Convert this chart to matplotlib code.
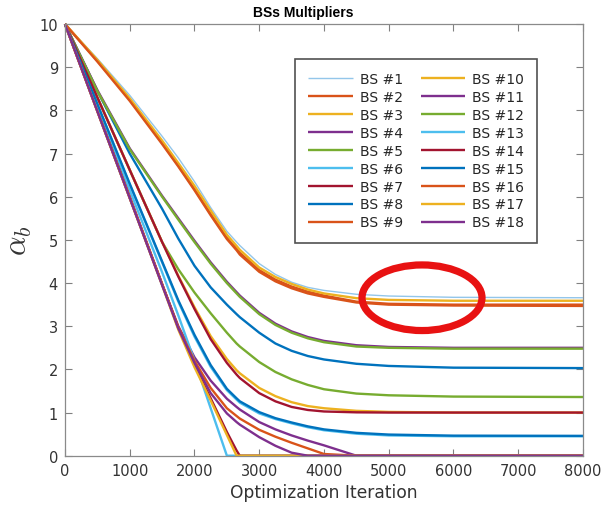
import matplotlib
matplotlib.use("Agg")
import matplotlib.pyplot as plt
from matplotlib.patches import Ellipse

plt.rcParams['font.family'] = ['DejaVu Sans']
plt.rcParams['mathtext.fontset'] = 'cm'

# ---------------- data ----------------
iters = [0, 500, 1000, 1500, 1750, 2000, 2250, 2500, 2650, 2700, 3000, 3250, 3500, 3750, 4000, 4500, 5000, 6000, 8000]

bs01 = [10, 9.20, 8.35, 7.40, 6.90, 6.35, 5.75, 5.20, 4.95, 4.87, 4.45, 4.20, 4.02, 3.90, 3.83, 3.74, 3.70, 3.67, 3.66]
bs02 = [10, 9.15, 8.25, 7.25, 6.72, 6.18, 5.60, 5.05, 4.80, 4.70, 4.30, 4.08, 3.92, 3.80, 3.71, 3.57, 3.52, 3.50, 3.50]
bs03 = [10, 9.17, 8.28, 7.30, 6.78, 6.25, 5.68, 5.12, 4.86, 4.77, 4.36, 4.14, 3.98, 3.85, 3.76, 3.65, 3.61, 3.59, 3.59]
bs04 = [10, 7.98, 5.97, 3.97, 3.00, 2.28, 1.74, 1.32, 1.13, 1.07, 0.78, 0.61, 0.47, 0.35, 0.24, 0.00, 0.00, 0.00, 0.00]
bs05 = [10, 8.30, 6.62, 4.95, 4.32, 3.78, 3.30, 2.85, 2.60, 2.53, 2.17, 1.94, 1.77, 1.64, 1.54, 1.44, 1.40, 1.37, 1.36]
bs06 = [10, 8.05, 6.15, 4.25, 3.25, 2.20, 1.10, 0.00, 0.00, 0.00, 0.00, 0.00, 0.00, 0.00, 0.00, 0.00, 0.00, 0.00, 0.00]
bs07 = [10, 8.00, 6.00, 3.98, 2.96, 2.10, 1.33, 0.55, 0.12, 0.00, 0.00, 0.00, 0.00, 0.00, 0.00, 0.00, 0.00, 0.00, 0.00]
bs08 = [10, 8.45, 7.00, 5.72, 5.03, 4.40, 3.90, 3.50, 3.28, 3.21, 2.85, 2.60, 2.43, 2.31, 2.23, 2.13, 2.08, 2.04, 2.03]
bs09 = [10, 7.98, 5.97, 3.97, 2.98, 2.20, 1.57, 1.10, 0.92, 0.86, 0.60, 0.44, 0.30, 0.17, 0.04, 0.00, 0.00, 0.00, 0.00]
bs10 = [10, 8.30, 6.62, 4.95, 4.17, 3.44, 2.77, 2.24, 1.98, 1.91, 1.57, 1.38, 1.24, 1.15, 1.10, 1.04, 1.015, 1.00, 1.00]
bs11 = [10, 8.47, 7.12, 6.02, 5.50, 4.98, 4.48, 4.03, 3.79, 3.71, 3.31, 3.06, 2.88, 2.75, 2.66, 2.56, 2.52, 2.50, 2.50]
bs12 = [10, 8.45, 7.10, 6.00, 5.47, 4.95, 4.45, 4.00, 3.76, 3.68, 3.28, 3.03, 2.85, 2.72, 2.63, 2.53, 2.50, 2.48, 2.48]
bs13 = [10, 8.13, 6.28, 4.48, 3.57, 2.76, 2.06, 1.52, 1.30, 1.23, 0.98, 0.85, 0.75, 0.66, 0.59, 0.51, 0.47, 0.45, 0.45]
bs14 = [10, 8.30, 6.62, 4.95, 4.15, 3.40, 2.70, 2.15, 1.88, 1.80, 1.45, 1.26, 1.13, 1.06, 1.025, 1.005, 1.00, 1.00, 1.00]
bs15 = [10, 8.15, 6.30, 4.50, 3.60, 2.80, 2.10, 1.55, 1.33, 1.26, 1.01, 0.87, 0.77, 0.68, 0.61, 0.53, 0.49, 0.465, 0.46]
bs16 = [10, 9.13, 8.22, 7.22, 6.70, 6.15, 5.57, 5.02, 4.76, 4.66, 4.26, 4.04, 3.88, 3.76, 3.68, 3.55, 3.50, 3.48, 3.47]
bs17 = [10, 7.98, 5.97, 3.95, 2.92, 2.05, 1.28, 0.48, 0.00, 0.00, 0.00, 0.00, 0.00, 0.00, 0.00, 0.00, 0.00, 0.00, 0.00]
bs18 = [10, 7.98, 5.97, 3.95, 2.95, 2.15, 1.45, 0.98, 0.78, 0.72, 0.43, 0.23, 0.07, 0.00, 0.00, 0.00, 0.00, 0.00, 0.00]

series = [bs01, bs02, bs03, bs04, bs05, bs06, bs07, bs08, bs09,
          bs10, bs11, bs12, bs13, bs14, bs15, bs16, bs17, bs18]
labels = ['BS #%d' % i for i in range(1, 19)]

x_ticks = [0, 1000, 2000, 3000, 4000, 5000, 6000, 7000, 8000]
y_ticks = [0, 1, 2, 3, 4, 5, 6, 7, 8, 9, 10]

# ---------------- style ----------------
matlab = ['#0072BD', '#D95319', '#EDB120', '#7E2F8E', '#77AC30', '#4DBEEE', '#A2142F']
colors = ['#93c6ea'] + [matlab[i % 7] for i in range(1, 18)]
widths = [1.0] + [1.7] * 17

fig = plt.figure(figsize=(6.03, 5.06), dpi=100)
ax = fig.add_axes([0.1078, 0.0974, 0.859, 0.853])

for vals, c, lw, lab in zip(series, colors, widths, labels):
    ax.plot(iters, vals, color=c, lw=lw, label=lab, clip_on=False,
            solid_capstyle='butt', solid_joinstyle='round')

ax.set_xlim(0, 8000)
ax.set_ylim(0, 10)
ax.set_xticks(x_ticks)
ax.set_yticks(y_ticks)
ax.tick_params(direction='in', length=5, width=0.8, color='#808080',
               labelcolor='#333333', labelsize=10.5, top=True, right=True, pad=5)
for s in ax.spines.values():
    s.set_color('#8a8a8a')
    s.set_linewidth(0.9)

ax.set_xlabel('Optimization Iteration', fontsize=12.3, color='#333333', labelpad=4)
ax.set_ylabel(r'$\alpha_b$', fontsize=22, color='#333333', labelpad=4)
fig.text(303 / 603, 1 - 13 / 506, 'BSs Multipliers', ha='center', va='center',
         fontsize=10, fontweight='bold', color='black', family='Liberation Sans')

leg = ax.legend(loc='upper left', bbox_to_anchor=(0.444, 0.919), ncol=2,
                fontsize=10, handlelength=3.2, handletextpad=0.5,
                labelspacing=0.28, columnspacing=1.3, borderpad=0.95,
                frameon=True, fancybox=False, borderaxespad=0)
leg.get_frame().set_edgecolor('#262626')
leg.get_frame().set_linewidth(1.2)
for t in leg.get_texts():
    t.set_color('#262626')

# red ellipse annotation
ax.add_patch(Ellipse((5514, 3.66), 1853, 1.52, fill=False, edgecolor='#e81212',
                     linewidth=5.2, zorder=5))

fig.savefig('out.png', dpi=100)
